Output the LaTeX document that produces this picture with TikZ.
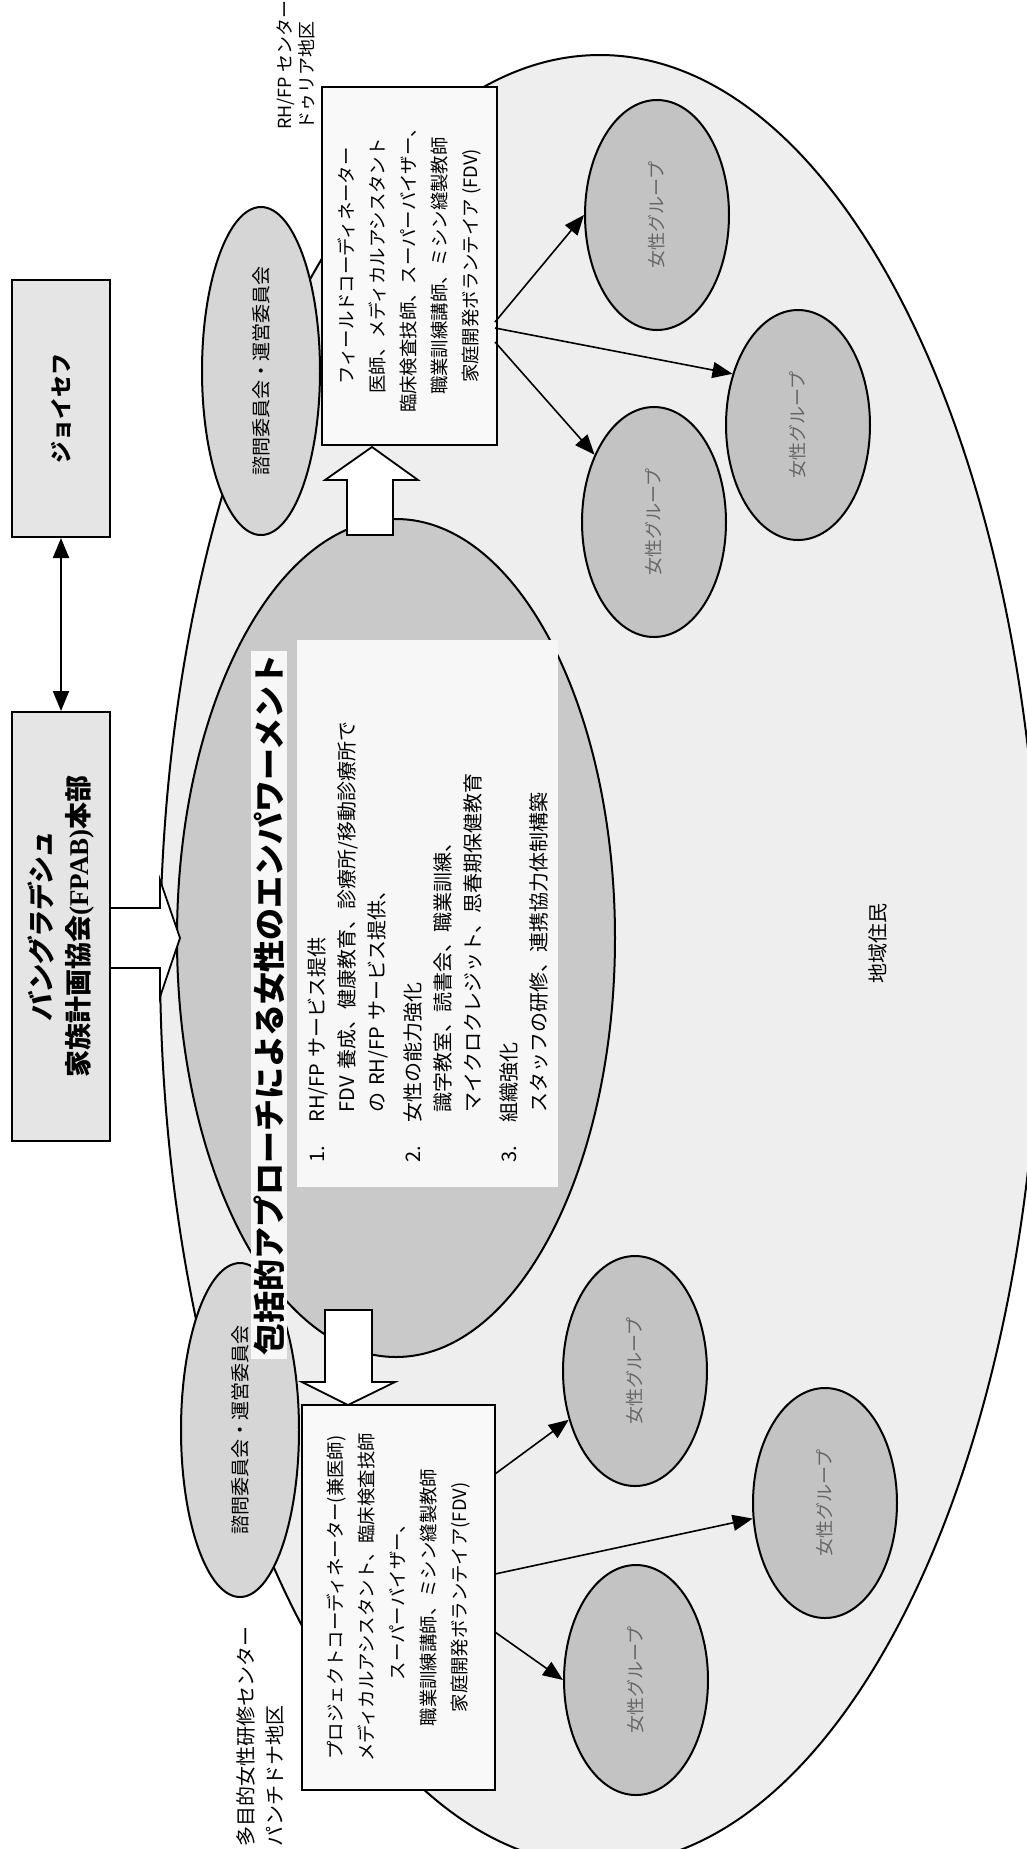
\documentclass[tikz,border=0pt]{standalone}
\usepackage{fontspec}
\setmainfont{Noto Sans CJK JP}
\newfontfamily\jpslant[FakeSlant=0.18]{Noto Sans CJK JP Bold}
\newfontfamily\latinserif{Liberation Serif}
\usetikzlibrary{shapes.geometric,arrows.meta}

\begin{document}
\begin{tikzpicture}[
  x=0.5pt, y=-0.5pt,
  >={Triangle[length=10pt,width=8pt]},
  vt/.style={rotate=90, inner sep=0pt, align=center},
  hq/.style={vt, draw, line width=1pt, fill=gray!20},
  site/.style={vt, draw, line width=0.8pt, fill=gray!5, font=\fontsize{9.2pt}{15.5pt}\selectfont},
  blob/.style={ellipse, draw, line width=1pt, inner sep=0pt},
  grp/.style={blob, rotate=90, fill=gray!47, minimum width=115pt, minimum height=72pt,
              text=black!60, font=\fontsize{9pt}{11pt}\selectfont},
  cmte/.style={blob, rotate=90, fill=gray!32, minimum height=59pt, font=\fontsize{9.5pt}{11pt}\selectfont},
  barrow/.style={draw, line width=0.9pt, fill=white, line join=miter},
  link/.style={->, line width=0.8pt}
]
\useasboundingbox (0,0) rectangle (1027,1849);
\clip (0,0) rectangle (1027,1849);

% community, programme core and committees
\node[blob, fill=gray!13, minimum width=440pt, minimum height=905pt] (area) at (600,960) {};
\node[blob, fill=gray!42, minimum width=219pt, minimum height=419pt] (core) at (396,938) {};
\node[cmte, minimum width=164pt] (cmteR) at (261,371) {諮問委員会・運営委員会};
\node[cmte, minimum width=167pt] (cmteL) at (240,1430) {諮問委員会・運営委員会};
\node[vt, font=\fontsize{10pt}{12pt}\selectfont] (folk) at (878,943) {地域住民};

\node[vt, fill=gray!6, inner sep=1.5pt, font=\bfseries\fontsize{16pt}{18pt}\selectfont] (head) at (269,1005)
  {包括的アプローチによる女性のエンパワーメント};
\node[vt, fill=gray!6, minimum width=273.5pt, minimum height=130.5pt, text width=249pt, align=left,
      font=\fontsize{10pt}{15pt}\selectfont] (prog) at (427.5,913.5) {%
\makebox[20pt][l]{1.}RH/FP サービス提供\\
\hspace*{25pt}FDV 養成、健康教育、診療所/移動診療所で\\
\hspace*{25pt}の RH/FP サービス提供、\\[3pt]
\makebox[20pt][l]{2.}女性の能力強化\\
\hspace*{25pt}識字教室、読書会、職業訓練、\\
\hspace*{25pt}マイクロクレジット、思春期保健教育\\[3pt]
\makebox[20pt][l]{3.}組織強化\\
\hspace*{25pt}スタッフの研修、連携協力体制構築};

% headquarters
\node[hq, minimum width=128.5pt, minimum height=49pt, font=\bfseries\fontsize{11pt}{13pt}\selectfont]
  (joicfp) at (61,408.5) {ジョイセフ};
\node[hq, minimum width=214.5pt, minimum height=49pt, font=\bfseries\fontsize{13.5pt}{18.5pt}\selectfont]
  (fpab) at (61,926.5) {{\jpslant バングラデシュ}\\家族計画協会{\latinserif\bfseries (FPAB)}本部};
\draw[<->, line width=1pt] (joicfp) -- (fpab);

% block arrows
\draw[barrow] (110,908) -- (160,908) -- (160,880) -- (180,938) -- (160,997) -- (160,968) -- (110,968) -- cycle;
\draw[barrow] (347,535) -- (347,480) -- (325,480) -- (372,447) -- (418,480) -- (393,480) -- (393,535) -- cycle;
\draw[barrow] (325,1310) -- (325,1382) -- (302,1382) -- (348,1405) -- (395,1382) -- (372,1382) -- (372,1310) -- cycle;

% sites
\node[site, minimum width=179pt, minimum height=87.5pt] (fieldsite) at (409.5,266)
  {フィールドコーディネーター\\医師、メディカルアシスタント\\臨床検査技師、スーパーバイザー、\\職業訓練講師、ミシン縫製教師\\家庭開発ボランテイア (FDV)};
\node[site, minimum width=192.5pt, minimum height=96.5pt] (hubsite) at (398.5,1597.5)
  {プロジェクトコーディネーター(兼医師)\\メディカルアシスタント、臨床検査技師\\スーパーバイザー、\\職業訓練講師、ミシン縫製教師\\家庭開発ボランテイア(FDV)};
\node[vt, anchor=north west, align=left, font=\fontsize{9pt}{11pt}\selectfont] (rhlab) at (276,130)
  {RH/FP センター\\ドゥリア地区};
\node[vt, anchor=north west, align=left, font=\fontsize{10pt}{14.5pt}\selectfont] (mwlab) at (236,1847)
  {多目的女性研修センター\\パンチドナ地区};

% women's groups
\node[grp] (ga) at (657,215) {女性グループ};
\node[grp] (gb) at (798,425) {女性グループ};
\node[grp] (gc) at (654,522) {女性グループ};
\node[grp] (gd) at (635,1371) {女性グループ};
\node[grp] (ge) at (825,1503) {女性グループ};
\node[grp] (gf) at (636,1680) {女性グループ};

\coordinate (fs1) at (495,322);
\coordinate (fs2) at (495,328);
\coordinate (fs3) at (495,342);
\coordinate (hs1) at (495,1474);
\coordinate (hs2) at (495,1574);
\coordinate (hs3) at (495,1632);
\draw[link] (fs1) -- (ga.north);
\draw[link] (fs2) -- (gb.52);
\draw[link] (fs3) -- (gc);
\draw[link] (hs1) -- (gd);
\draw[link] (hs2) -- (ge);
\draw[link] (hs3) -- (gf.north);

\end{tikzpicture}
\end{document}
